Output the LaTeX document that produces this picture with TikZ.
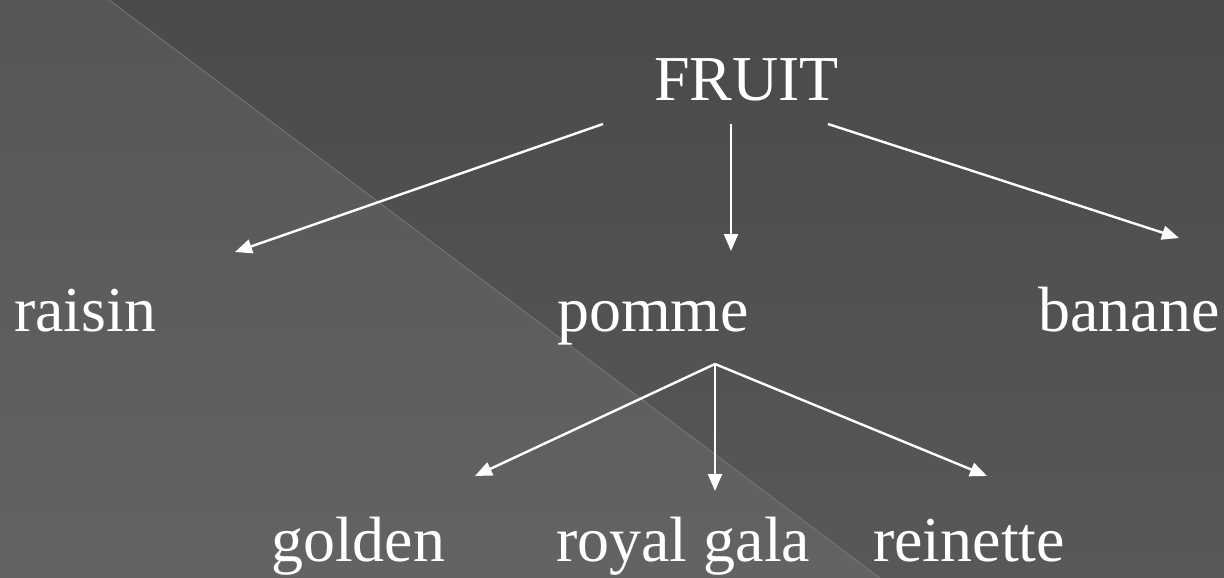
\documentclass[tikz,border=0pt]{standalone}
\usepackage{fontspec}
\setmainfont{Liberation Serif}
\usetikzlibrary{arrows.meta}
\definecolor{bgtopA}{HTML}{4A4A4A}
\definecolor{bgbotA}{HTML}{585858}
\definecolor{bgtopB}{HTML}{565656}
\definecolor{bgbotB}{HTML}{636363}
\definecolor{diag}{HTML}{767676}
\tikzset{
  lbl/.style={anchor=base west, inner sep=0pt, text=white, font=\fontsize{64}{64}\selectfont},
  arr/.style={draw=white, line width=2.4pt, -{Triangle[length=17pt,width=14pt]}},
}
\begin{document}
\begin{tikzpicture}[x=1pt,y=-1pt]
\useasboundingbox (0,0) rectangle (1224,578);
% background
\shade[top color=bgtopA, bottom color=bgbotA] (109,0) -- (1224,0) -- (1224,578) -- (880,578) -- cycle;
\shade[top color=bgtopB, bottom color=bgbotB] (0,0) -- (109,0) -- (880,578) -- (0,578) -- cycle;
\draw[diag, line width=0.8pt] (109,0) -- (880,578);
% labels
\node[lbl] (fruit) at (654,100) {FRUIT};
\node[lbl] (raisin) at (14,331) {raisin};
\node[lbl] (pomme) at (557,331) {pomme};
\node[lbl] (banane) at (1038,331) {banane};
\node[lbl] (golden) at (271,561) {golden};
\node[lbl] (royal) at (556,561) {royal gala};
\node[lbl] (reinette) at (873,561) {reinette};
% connector ends
\coordinate (f1) at (603,124);
\coordinate (f2) at (731,124);
\coordinate (f3) at (828,124);
\coordinate (tr) at (235,252);
\coordinate (tp) at (731,251);
\coordinate (tb) at (1179,238);
\coordinate (p0) at (715,364);
\coordinate (tg) at (475,476);
\coordinate (tl) at (715,491);
\coordinate (te) at (987,476);
\draw[arr] (f1) -- (tr);
\draw[arr] (f2) -- (tp);
\draw[arr] (f3) -- (tb);
\draw[arr] (p0) -- (tg);
\draw[arr] (p0) -- (tl);
\draw[arr] (p0) -- (te);
\end{tikzpicture}
\end{document}
